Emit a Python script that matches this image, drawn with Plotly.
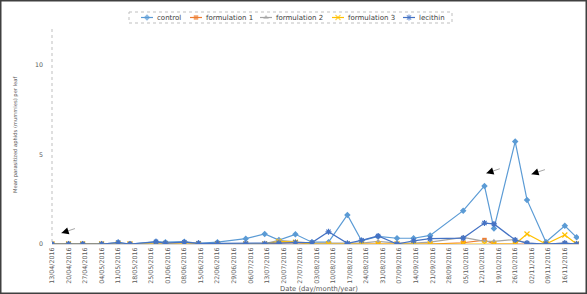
import plotly.graph_objects as go

dates = ["2016-04-13", "2016-04-20", "2016-04-26", "2016-05-04", "2016-05-11", "2016-05-16",
         "2016-05-27", "2016-05-31", "2016-06-08", "2016-06-14", "2016-06-22", "2016-07-04",
         "2016-07-12", "2016-07-18", "2016-07-25", "2016-08-01", "2016-08-08", "2016-08-16",
         "2016-08-22", "2016-08-29", "2016-09-06", "2016-09-13", "2016-09-20", "2016-10-04",
         "2016-10-13", "2016-10-17", "2016-10-26", "2016-10-31", "2016-11-08", "2016-11-16",
         "2016-11-21"]

control = [0, 0, 0, 0, 0.08, 0, 0.13, 0.1, 0.13, 0.04, 0.1, 0.3, 0.56, 0.22, 0.54, 0.1, 0.1,
           1.62, 0.18, 0.42, 0.32, 0.32, 0.48, 1.86, 3.24, 0.86, 5.72, 2.46, 0.11, 1.02, 0.37]
formulation1 = [0, 0, 0, 0, 0, 0, 0, 0, 0, 0, 0, 0, 0, 0.05, 0.08, 0, 0, 0, 0, 0.03, 0, 0, 0,
                0.07, 0.22, 0, 0, 0, 0, 0.03, 0]
formulation2 = [0, 0, 0, 0, 0.05, 0, 0.05, 0.05, 0.08, 0.02, 0.02, 0.02, 0.02, 0.2, 0.13, 0.05,
                0.05, 0.03, 0.05, 0.15, 0.05, 0.05, 0.1, 0.37, 0.15, 0.15, 0.25, 0.05, 0, 0.05, 0]
formulation3 = [0, 0, 0, 0, 0, 0, 0, 0, 0, 0, 0, 0, 0, 0.15, 0.1, 0, 0, 0, 0, 0, 0, 0, 0,
                0.03, 0.02, 0, 0, 0.56, 0, 0.5, 0]
lecithin = [0, 0, 0, 0, 0.08, 0, 0.12, 0.05, 0.1, 0.04, 0.04, 0.03, 0.02, 0.05, 0.08, 0.08, 0.68,
            0.04, 0.2, 0.45, 0, 0.18, 0.3, 0.33, 1.17, 1.12, 0.22, 0.05, 0, 0.05, 0]

series_names = ["control", "formulation 1", "formulation 2", "formulation 3", "lecithin"]
y_ticks = [0, 5, 10]
y_tick_labels = ["0", "5", "10"]

FONT = "DejaVu Sans"
TXT = "#595959"

W, H = 587, 294
PX_L, PX_R, PX_T, PX_B = 52, 579, 29, 244   # plot area in pixels

styles = [
    dict(color="#5B9BD5", symbol="diamond", size=5, line=dict(width=0)),
    dict(color="#ED7D31", symbol="square", size=4.5, line=dict(width=0)),
    dict(color="#A5A5A5", symbol="triangle-up", size=5, line=dict(width=0)),
    dict(color="#FFC000", symbol="x-thin-open", size=5, line=dict(width=1.2, color="#FFC000")),
    dict(color="#4472C4", symbol="asterisk-open", size=5, line=dict(width=1.2, color="#4472C4")),
]
data = [control, formulation1, formulation2, formulation3, lecithin]

fig = go.Figure()
for name, vals, st in zip(series_names, data, styles):
    fig.add_trace(go.Scatter(
        x=dates, y=vals, name=name, mode="lines+markers",
        line=dict(color=st["color"], width=1.2), marker=st,
        xaxis="x", yaxis="y", showlegend=False,
    ))

# custom legend (pixel coordinate overlay axes)
legend_x = [141, 190, 260, 332, 403]
legend_y = 17.5
annotations = []
for name, st, lx in zip(series_names, styles, legend_x):
    fig.add_trace(go.Scatter(
        x=[lx, lx + 6, lx + 12], y=[legend_y] * 3, mode="lines+markers",
        line=dict(color=st["color"], width=1.2),
        marker=dict(st, size=[0, st["size"], 0]),
        xaxis="x2", yaxis="y2", showlegend=False, hoverinfo="skip",
    ))
    annotations.append(dict(text=name, x=lx + 14, y=legend_y, xref="x2", yref="y2",
                            xanchor="left", yanchor="middle", showarrow=False,
                            font=dict(family=FONT, size=7, color="#404040")))

annotations.append(dict(text="Mean parasitized aphids (mummies) per leaf", textangle=-90,
                        xref="x2", yref="y2", x=15, y=135, showarrow=False,
                        font=dict(family=FONT, size=5.2, color=TXT),
                        xanchor="center", yanchor="middle"))
annotations.append(dict(text="Date (day/month/year)", xref="x2", yref="y2", x=319, y=288.5,
                        showarrow=False, font=dict(family=FONT, size=6.8, color=TXT),
                        xanchor="center", yanchor="middle"))

arrows = [("2016-04-17", 0.61), ("2016-10-13 19:00", 3.95), ("2016-11-01 21:00", 3.9)]
for ax_, ay_ in arrows:
    annotations.append(dict(x=ax_, y=ay_, xref="x", yref="y", text="", showarrow=True,
                            ax=15, ay=-5, arrowhead=0, arrowwidth=1, arrowcolor="#A6A6A6",
                            standoff=0))
    annotations.append(dict(x=ax_, y=ay_, xref="x", yref="y", text="", showarrow=True,
                            ax=4, ay=-1.3, arrowhead=2, arrowsize=1.2, arrowwidth=1.2,
                            arrowcolor="#000000", standoff=0))

shapes = [
    dict(type="rect", xref="x2", yref="y2", x0=0.75, x1=586.25, y0=0.75, y1=293.25,
         line=dict(color="#404040", width=1.5)),
    dict(type="line", xref="x2", yref="y2", x0=PX_L, x1=PX_L, y0=PX_T, y1=PX_B,
         line=dict(color="#BFBFBF", width=1, dash="dot")),
    dict(type="rect", xref="x2", yref="y2", x0=129, x1=452, y0=12, y1=23,
         line=dict(color="#BFBFBF", width=1, dash="dot")),
]

fig.update_layout(
    width=W, height=H,
    margin=dict(l=0, r=0, t=0, b=0, pad=0, autoexpand=False),
    paper_bgcolor="white", plot_bgcolor="rgba(0,0,0,0)",
    font=dict(family=FONT, size=6.3, color=TXT),
    showlegend=False,
    shapes=shapes,
    annotations=annotations,
    xaxis=dict(domain=[PX_L / W, PX_R / W], anchor="y",
               type="date", range=["2016-04-13", "2016-11-22"],
               tick0="2016-04-13", dtick=7 * 24 * 3600 * 1000, tickformat="%d/%m/%Y",
               tickangle=-90, showgrid=False, zeroline=False, showline=True,
               linecolor="#D9D9D9", linewidth=1, ticks="", ticklabelstandoff=0,
               tickfont=dict(family=FONT, size=6.3, color=TXT)),
    yaxis=dict(domain=[(H - PX_B) / H, (H - PX_T) / H], anchor="x",
               range=[0, 12], tickvals=y_ticks, ticktext=y_tick_labels, showgrid=False,
               zeroline=False, showline=False, ticks="", ticklabelstandoff=8,
               tickfont=dict(family=FONT, size=6.3, color=TXT)),
    xaxis2=dict(domain=[0, 1], anchor="y2", range=[0, W], visible=False, fixedrange=True),
    yaxis2=dict(domain=[0, 1], anchor="x2", range=[H, 0], visible=False, fixedrange=True),
)

fig.write_html("out.html", config={"displayModeBar": False, "staticPlot": True},
               post_script="document.body.style.margin='0';document.body.style.padding='0';")
